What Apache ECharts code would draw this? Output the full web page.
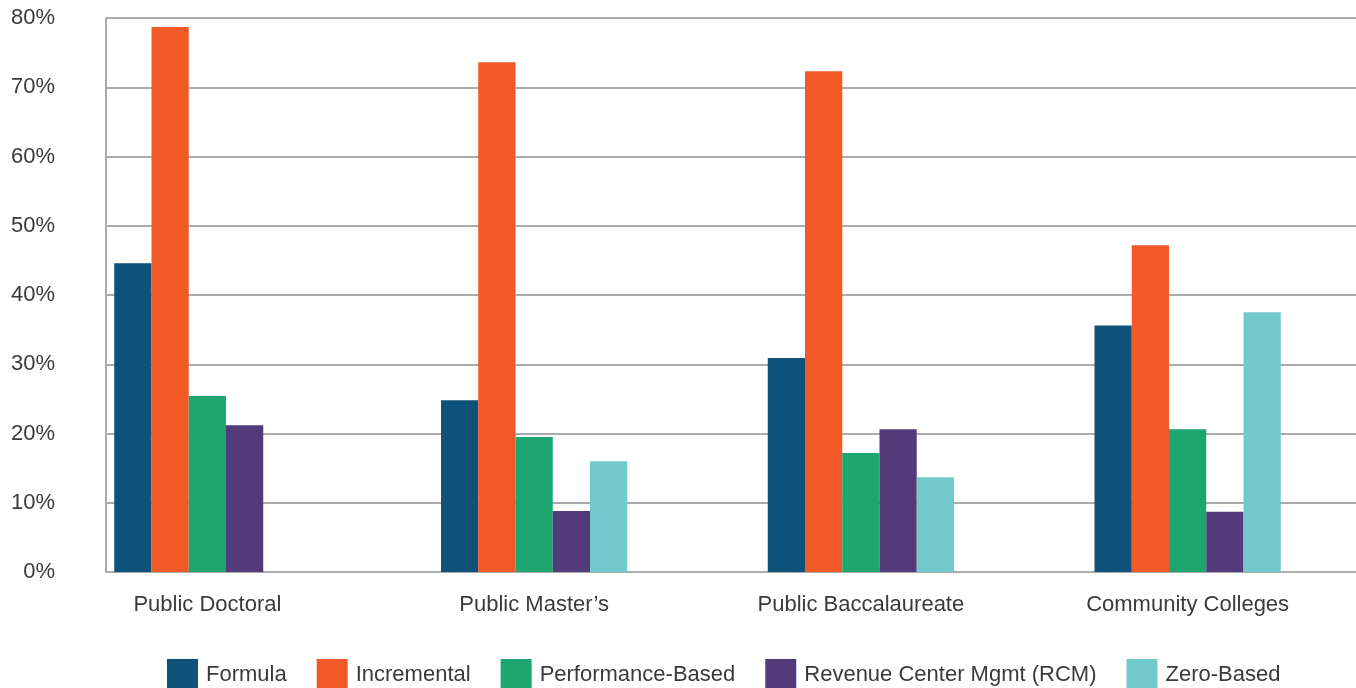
<!DOCTYPE html>
<html>
<head>
<meta charset="utf-8">
<script src="https://cdn.jsdelivr.net/npm/echarts@6/dist/echarts.min.js"></script>
<style>
  html, body { margin: 0; padding: 0; background: #fff; }
  #chart { width: 1356px; height: 688px; }
</style>
</head>
<body>
<div id="chart"></div>
<script>
const categories = ['Public Doctoral', 'Public Master\u2019s', 'Public Baccalaureate', 'Community Colleges']
const seriesNames = ['Formula', 'Incremental', 'Performance-Based', 'Revenue Center Mgmt (RCM)', 'Zero-Based']
const formula = [44.6, 24.8, 30.9, 35.6]
const incremental = [78.7, 73.6, 72.3, 47.2]
const performanceBased = [25.4, 19.5, 17.2, 20.6]
const rcm = [21.2, 8.8, 20.6, 8.7]
const zeroBased = [null, 16.0, 13.7, 37.5]
const yMin = 0
const yMax = 80
const yStep = 10

const colors = ['#0e5179', '#f15a27', '#1da66f', '#533a7b', '#72c9cb']
const seriesData = [formula, incremental, performanceBased, rcm, zeroBased]
const font = '"Liberation Sans", Arial, sans-serif'
const gridLine = { color: '#ababab', width: 2 }

const chart = echarts.init(document.getElementById('chart'))

chart.setOption({
  animation: false,
  color: colors,
  textStyle: { fontFamily: font },
  // grid 0: axis frame and gridlines, grid 1: bars and category labels
  grid: [
    { left: 106, right: 0, top: 18, bottom: 116 },
    { left: 44, right: 5, top: 18, bottom: 116 },
  ],
  legend: {
    left: 162,
    top: 654,
    itemWidth: 31,
    itemHeight: 31,
    itemGap: 30,
    icon: 'rect',
    data: seriesNames,
    textStyle: { fontSize: 22, color: '#3a3a3a', fontFamily: font, padding: [0, 0, 0, 3] },
  },
  xAxis: [
    {
      type: 'category',
      gridIndex: 0,
      data: categories,
      axisLabel: { show: false },
      axisTick: { show: false },
      axisLine: { show: true, lineStyle: gridLine },
    },
    {
      type: 'category',
      gridIndex: 1,
      data: categories,
      axisLine: { show: false },
      axisTick: { show: false },
      axisLabel: { fontSize: 22, color: '#3a3a3a', margin: 22, fontFamily: font },
    },
  ],
  yAxis: [
    {
      type: 'value',
      gridIndex: 0,
      min: yMin,
      max: yMax,
      interval: yStep,
      axisLine: { show: true, lineStyle: gridLine },
      axisTick: { show: false },
      splitLine: { lineStyle: gridLine },
      axisLabel: { formatter: '{value}%', fontSize: 22, color: '#3a3a3a', margin: 51, fontFamily: font },
    },
    {
      type: 'value',
      gridIndex: 1,
      min: yMin,
      max: yMax,
      interval: yStep,
      show: false,
    },
  ],
  series: seriesNames.map((name, i) => ({
    name,
    type: 'bar',
    xAxisIndex: 1,
    yAxisIndex: 1,
    barGap: '0%',
    barCategoryGap: '43%',
    itemStyle: { color: colors[i] },
    data: seriesData[i],
  })),
})
</script>
</body>
</html>
